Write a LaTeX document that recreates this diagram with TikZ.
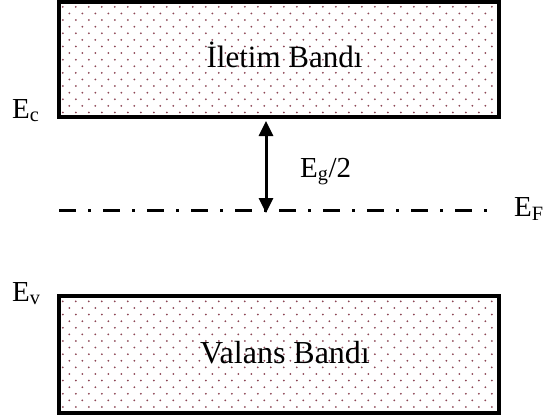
\documentclass[tikz,border=0pt]{standalone}
\usepackage{fontspec}
\setmainfont{Liberation Serif}
\usetikzlibrary{arrows.meta,backgrounds,calc}

\definecolor{dotred}{RGB}{140,70,85}

\begin{document}
\begin{tikzpicture}[x=1pt, y=-1pt,
    band/.style={draw, line width=3.8pt, minimum width=440.5pt, inner sep=0pt},
    bandtxt/.style={anchor=base, inner sep=0pt, font=\fontsize{31}{36}\selectfont},
    lvl/.style={anchor=base west, inner sep=0pt, font=\fontsize{29}{34}\selectfont},
    fermi/.style={line width=3pt, dash pattern=on 17pt off 12pt on 3pt off 12pt},
    gap/.style={{Triangle[length=15pt,width=14pt]}-{Triangle[length=15pt,width=14pt]}, line width=3pt}
]
\useasboundingbox (0,0) rectangle (544,418);

% bands
\node[band, minimum height=115pt] (cb) at (279,59.25) {};
\node[band, minimum height=116.5pt] (vb) at (279,354.5) {};
\node[bandtxt] (cbtxt) at (284.5,67) {İletim Bandı};
\node[bandtxt, font=\fontsize{32}{37}\selectfont] (vbtxt) at (285,363) {Valans Bandı};

% dotted fill
\begin{scope}[on background layer]
\foreach \b in {cb,vb} {
  \begin{scope}
    \clip (\b.south west) rectangle (\b.north east);
    \foreach \r in {0,...,18} {
      \pgfmathsetmacro\xo{mod(\r,2)*6.5}
      \foreach \c in {0,...,34}
        \fill[dotred] ($(\b.north west)+({6+\xo+13*\c},{7+6.6*\r})$) circle (1pt);
    }
  \end{scope}
}
\end{scope}

% levels
\node[lvl] (ec) at (12,118) {E\textsubscript{c}};
\node[lvl] (ev) at (12,301) {E\textsubscript{v}};
\node[lvl] (ef) at (514,216) {E\textsubscript{F}};

\coordinate (f0) at (59,210);
\coordinate (f1) at (488,210);
\draw[fermi] (f0) -- (f1);

\coordinate (gtop) at (266,121);
\coordinate (gbot) at (266,213);
\draw[gap] (gtop) -- (gbot);
\node[lvl] (eg) at (300,177) {E\textsubscript{g}/2};
\end{tikzpicture}
\end{document}
